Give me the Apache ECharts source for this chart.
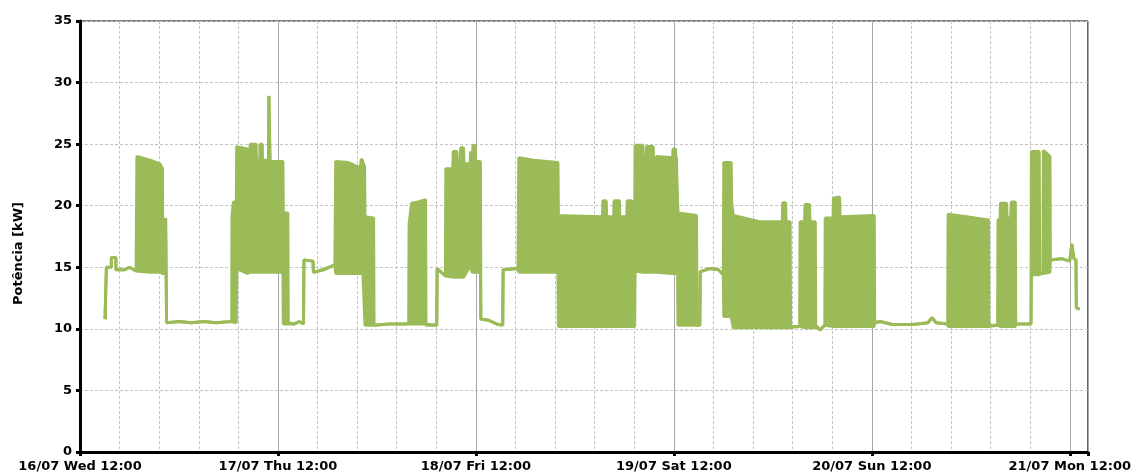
<!DOCTYPE html>
<html>
<head>
<meta charset="utf-8">
<script src="https://cdn.jsdelivr.net/npm/echarts@6/dist/echarts.min.js"></script>
<style>
  html, body { margin: 0; padding: 0; background: #fff; }
  #chart { width: 1134px; height: 474px; }
</style>
</head>
<body>
<div id="chart"></div>
<script>
// x = hours since 16/07 12:00, low/high = envelope of the measured power (kW)
var hours = [3.03, 3.2, 3.2, 3.8, 3.8, 4.35, 4.35, 5.4, 6.0, 6.8,
  6.9, 8.5, 9.7, 10.0, 10.05, 10.33, 10.38, 10.5, 12.0, 13.5,
  15.0, 16.5, 18.4, 18.42, 18.6, 18.95, 19.0, 20.3, 20.6, 20.62,
  21.35, 21.4, 21.8, 21.82, 22.1, 22.12, 22.85, 22.87, 23.05, 23.07,
  24.6, 24.65, 25.2, 25.25, 26.0, 26.6, 27.1, 27.15, 28.25, 28.3,
  29.5, 30.9, 31.0, 32.5, 34.0, 34.1, 34.3, 34.5, 34.55, 35.6,
  35.65, 37.5, 39.85, 39.9, 40.2, 41.0, 41.9, 41.95, 43.25, 43.3,
  44.3, 44.35, 45.2, 45.25, 45.7, 45.75, 46.1, 46.15, 46.5, 46.55,
  47.3, 47.35, 47.5, 47.55, 47.65, 47.9, 47.95, 48.55, 48.6, 49.5,
  50.5, 51.25, 51.3, 53.1, 53.2, 55.0, 57.95, 58.0, 63.35, 63.4,
  63.8, 63.85, 64.7, 64.75, 65.4, 65.45, 66.3, 66.35, 66.9, 66.95,
  67.25, 67.3, 68.25, 68.3, 68.65, 68.7, 69.5, 69.55, 69.85, 69.9,
  71.85, 71.9, 72.2, 72.25, 72.45, 72.5, 74.75, 74.8, 75.15, 75.2,
  76.4, 77.4, 78.0, 78.05, 78.95, 79.0, 79.2, 82.4, 85.15, 85.2,
  85.55, 85.6, 86.1, 86.15, 87.25, 87.3, 87.85, 87.9, 88.45, 88.5,
  89.15, 89.2, 89.7, 90.3, 90.35, 91.3, 91.35, 92.1, 92.15, 96.3,
  96.35, 97.0, 98.5, 101.0, 102.8, 103.3, 103.8, 105.2, 105.25, 107.5,
  110.15, 110.2, 111.25, 111.3, 111.55, 111.6, 112.35, 112.4, 112.85, 112.9,
  113.4, 113.45, 115.3, 115.35, 116.3, 116.35, 116.75, 116.8, 117.6, 117.65,
  119.0, 120.0, 120.25, 120.5, 120.75, 120.8, 121.2];

var lowKw = [10.8, 10.8, 15.0, 15.0, 15.8, 15.8, 14.8, 14.8, 15.0, 14.7,
  14.7, 14.6, 14.6, 14.5, 14.5, 14.5, 19.0, 10.5, 10.6, 10.5,
  10.6, 10.5, 10.6, 10.5, 10.5, 10.5, 14.9, 14.5, 14.6, 14.6,
  14.6, 14.6, 14.6, 14.6, 14.6, 14.6, 14.6, 14.6, 14.6, 14.6,
  14.6, 10.4, 10.4, 10.5, 10.4, 10.6, 10.4, 15.6, 15.5, 14.6,
  14.8, 15.2, 14.5, 14.5, 14.5, 14.5, 14.5, 14.5, 10.3, 10.3,
  10.3, 10.4, 10.4, 10.4, 10.4, 10.4, 10.4, 10.3, 10.3, 14.9,
  14.3, 14.3, 14.2, 14.2, 14.2, 14.2, 14.2, 14.2, 14.2, 14.3,
  15.1, 15.1, 15.1, 14.6, 14.6, 14.6, 14.6, 14.6, 10.8, 10.7,
  10.4, 10.3, 14.8, 14.9, 14.6, 14.6, 14.6, 10.2, 10.2, 10.2,
  10.2, 10.2, 10.2, 10.2, 10.2, 10.2, 10.2, 10.2, 10.2, 10.2,
  10.2, 14.7, 14.6, 14.6, 14.6, 14.6, 14.6, 14.6, 14.6, 14.6,
  14.5, 14.5, 14.5, 14.5, 14.5, 10.3, 10.3, 10.3, 10.3, 14.65,
  14.9, 14.8, 14.4, 11.0, 11.0, 11.0, 10.1, 10.1, 10.1, 10.1,
  10.1, 10.1, 10.1, 10.2, 10.2, 10.1, 10.1, 10.1, 10.1, 10.1,
  10.1, 10.3, 9.9, 10.3, 10.2, 10.2, 10.2, 10.2, 10.2, 10.2,
  10.5, 10.6, 10.35, 10.35, 10.5, 10.9, 10.5, 10.4, 10.2, 10.2,
  10.2, 10.3, 10.3, 10.2, 10.2, 10.2, 10.2, 10.2, 10.2, 10.2,
  10.2, 10.4, 10.4, 14.4, 14.4, 14.5, 14.5, 14.6, 14.6, 15.6,
  15.7, 15.5, 16.9, 15.7, 15.6, 11.7, 11.6];

var highKw = [10.8, 10.8, 15.0, 15.0, 15.8, 15.8, 14.8, 14.8, 15.0, 14.7,
  24.0, 23.7, 23.4, 23.0, 14.5, 14.5, 19.0, 10.5, 10.6, 10.5,
  10.6, 10.5, 10.6, 19.1, 20.3, 20.3, 24.8, 24.6, 23.6, 25.0,
  25.0, 23.7, 23.7, 25.0, 25.0, 23.7, 23.7, 28.9, 28.9, 23.6,
  23.6, 19.4, 19.4, 10.5, 10.4, 10.6, 10.4, 15.6, 15.5, 14.6,
  14.8, 15.2, 23.6, 23.5, 23.1, 23.8, 23.8, 23.2, 19.1, 19.0,
  10.3, 10.4, 10.4, 18.5, 20.2, 20.3, 20.5, 10.3, 10.3, 14.9,
  14.3, 23.0, 23.0, 24.4, 24.4, 23.4, 23.4, 24.7, 24.7, 23.4,
  23.4, 24.4, 24.4, 23.4, 24.9, 24.9, 23.6, 23.6, 10.8, 10.7,
  10.4, 10.3, 14.8, 14.9, 23.9, 23.7, 23.5, 19.2, 19.1, 20.4,
  20.4, 19.1, 19.1, 20.4, 20.4, 19.1, 19.1, 20.4, 20.4, 19.2,
  19.2, 24.9, 24.9, 23.8, 23.8, 24.8, 24.8, 23.5, 23.5, 24.0,
  23.9, 24.6, 24.6, 23.9, 23.9, 19.4, 19.2, 10.3, 10.3, 14.65,
  14.9, 14.8, 14.4, 23.5, 23.5, 20.3, 19.2, 18.7, 18.7, 20.25,
  20.25, 18.7, 18.7, 10.2, 10.2, 18.7, 18.7, 20.1, 20.1, 18.7,
  18.7, 10.3, 9.9, 10.3, 19.0, 19.0, 20.6, 20.7, 19.1, 19.2,
  10.5, 10.6, 10.35, 10.35, 10.5, 10.9, 10.5, 10.4, 19.3, 19.1,
  18.85, 10.3, 10.3, 18.85, 18.85, 20.2, 20.2, 19.0, 19.0, 20.3,
  20.3, 10.4, 10.4, 24.4, 24.4, 14.5, 14.5, 24.5, 24.0, 15.6,
  15.7, 15.5, 16.9, 15.7, 15.6, 11.7, 11.6];

var dayLabels = ['16/07 Wed 12:00', '17/07 Thu 12:00', '18/07 Fri 12:00',
  '19/07 Sat 12:00', '20/07 Sun 12:00', '21/07 Mon 12:00'];

var green = '#9bbb59';
var font = 'DejaVu Sans, Verdana, sans-serif';

var lowData = hours.map(function (h, i) { return [h, lowKw[i]]; });
var highData = hours.map(function (h, i) { return [h, highKw[i]]; });

// the filled band: high envelope forwards, low envelope backwards, one polygon
function renderBand(params, api) {
  var pts = [];
  for (var i = 0; i < hours.length; i++) pts.push(api.coord([hours[i], highKw[i]]));
  for (var j = hours.length - 1; j >= 0; j--) pts.push(api.coord([hours[j], lowKw[j]]));
  return {
    type: 'polygon',
    shape: { points: pts },
    style: { fill: green, stroke: green, lineWidth: 1 }
  };
}

var lineStyle = { color: green, width: 3 };

var chart = echarts.init(document.getElementById('chart'));
chart.setOption({
  animation: false,
  backgroundColor: '#fff',
  grid: {
    left: 80, right: 46, top: 21, bottom: 22,
    show: true, borderColor: '#000', borderWidth: 1
  },
  xAxis: [{
    type: 'value',
    min: 0, max: 122.2, interval: 24,
    z: 1,
    axisLine: { lineStyle: { color: '#000', width: 3 } },
    axisTick: { length: 4, lineStyle: { color: '#000', width: 3 } },
    axisLabel: {
      color: '#000', fontFamily: font, fontWeight: 'bold', fontSize: 13, margin: 8,
      showMinLabel: true, showMaxLabel: true,
      formatter: function (v) {
        var d = Math.round(v / 24);
        if (Math.abs(v - d * 24) > 1e-6) return '';
        return dayLabels[d] || '';
      }
    },
    splitLine: { show: true, lineStyle: { color: '#a8a8a8', width: 1 } }
  }, {
    type: 'value',
    position: 'top',
    min: 0, max: 122.2, interval: 4.8,
    z: 0,
    axisLine: { show: false },
    axisTick: { show: false },
    axisLabel: { show: false },
    splitLine: { show: true, lineStyle: { color: '#c4c4c4', width: 1, type: [3, 2] } }
  }],
  yAxis: {
    type: 'value',
    min: 0, max: 35, interval: 5,
    z: 1,
    name: 'Potência [kW]',
    nameLocation: 'middle',
    nameGap: 55,
    nameTextStyle: {
      color: '#000', fontFamily: font, fontWeight: 'bold', fontSize: 13,
      padding: [0, 34, 0, 0]
    },
    axisLine: { show: true, lineStyle: { color: '#000', width: 3 } },
    axisTick: { show: true, length: 4, lineStyle: { color: '#000', width: 3 } },
    axisLabel: { color: '#000', fontFamily: font, fontWeight: 'bold', fontSize: 13, margin: 8 },
    splitLine: { lineStyle: { color: '#c4c4c4', width: 1, type: [3, 2] } }
  },
  series: [{
    name: 'band',
    type: 'custom',
    renderItem: renderBand,
    data: [[hours[0], lowKw[0]]],
    clip: true,
    z: 10
  }, {
    name: 'low',
    type: 'line',
    data: lowData,
    showSymbol: false,
    symbol: 'none',
    lineStyle: lineStyle,
    z: 11
  }, {
    name: 'high',
    type: 'line',
    data: highData,
    showSymbol: false,
    symbol: 'none',
    lineStyle: lineStyle,
    z: 11
  }]
});
</script>
</body>
</html>
